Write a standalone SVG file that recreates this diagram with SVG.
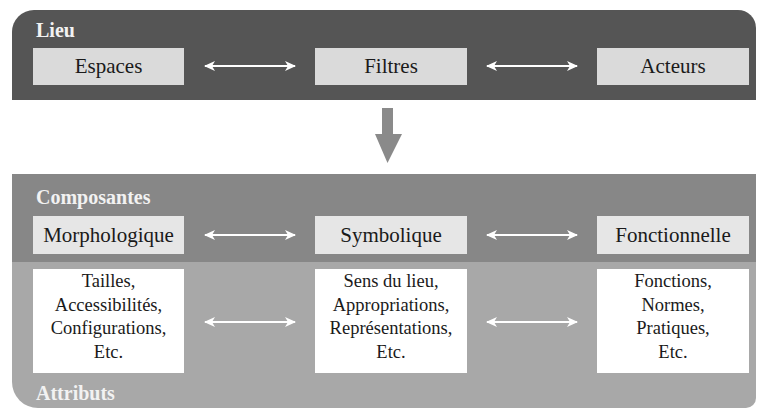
<svg xmlns="http://www.w3.org/2000/svg" width="758" height="410" viewBox="0 0 758 410">
<style>
.lbl{font-weight:bold;font-size:20px;fill:#f2f2f2}
.t{font-size:21px;fill:#1a1a1a;text-anchor:middle}
.a{font-size:18.5px;fill:#1a1a1a;text-anchor:middle}
.b1{fill:#dadada}
.b2{fill:#e6e6e6}
.b3{fill:#ffffff}
.c{stroke:#ffffff;stroke-width:2.2;fill:none;marker-start:url(#hs);marker-end:url(#he)}
</style>
<defs>
<marker id="he" markerWidth="12" markerHeight="10" refX="10" refY="5" orient="auto" markerUnits="userSpaceOnUse"><path d="M0,0 L11,5 L0,10 L3,5 Z" fill="#ffffff"/></marker>
<marker id="hs" markerWidth="12" markerHeight="10" refX="1" refY="5" orient="auto" markerUnits="userSpaceOnUse"><path d="M11,0 L0,5 L11,10 L8,5 Z" fill="#ffffff"/></marker>
</defs>
<rect width="758" height="410" fill="#ffffff"/>
<g font-family="Liberation Serif, serif">
<g id="panel-lieu">
<path d="M12,100 L12,32 A22,22 0 0 1 34,10 L738,10 A18,18 0 0 1 756,28 L756,100 Z" fill="#555555"/>
<text class="lbl" x="36" y="37">Lieu</text>
</g>
<g id="panel-composantes">
<rect x="12" y="174" width="744" height="88" fill="#878787"/>
<text class="lbl" x="36" y="204">Composantes</text>
</g>
<g id="panel-attributs">
<path d="M12,262 L756,262 L756,398 A10,10 0 0 1 746,408 L38,408 A26,26 0 0 1 12,382 Z" fill="#a8a8a8"/>
<text class="lbl" x="36" y="400">Attributs</text>
</g>
<g id="espaces"><rect class="b1" x="33" y="48" width="151" height="37"/><text class="t" x="108.5" y="73">Espaces</text></g>
<g id="filtres"><rect class="b1" x="315" y="48" width="152" height="37"/><text class="t" x="391" y="73">Filtres</text></g>
<g id="acteurs"><rect class="b1" x="597" y="48" width="152" height="37"/><text class="t" x="673" y="73">Acteurs</text></g>
<g id="morphologique"><rect class="b2" x="33" y="216" width="151" height="38"/><text class="t" x="108.5" y="242">Morphologique</text></g>
<g id="symbolique"><rect class="b2" x="315" y="216" width="152" height="38"/><text class="t" x="391" y="242">Symbolique</text></g>
<g id="fonctionnelle"><rect class="b2" x="597" y="216" width="152" height="38"/><text class="t" x="673" y="242">Fonctionnelle</text></g>
<g id="attr-morpho"><rect class="b3" x="33" y="269" width="151" height="104"/>
<text class="a" x="108.5" y="287">Tailles,</text><text class="a" x="108.5" y="311">Accessibilités,</text><text class="a" x="108.5" y="334">Configurations,</text><text class="a" x="108.5" y="358">Etc.</text></g>
<g id="attr-symbo"><rect class="b3" x="315" y="269" width="152" height="104"/>
<text class="a" x="391" y="287">Sens du lieu,</text><text class="a" x="391" y="311">Appropriations,</text><text class="a" x="391" y="334">Représentations,</text><text class="a" x="391" y="358">Etc.</text></g>
<g id="attr-fonc"><rect class="b3" x="597" y="269" width="152" height="104"/>
<text class="a" x="673" y="287">Fonctions,</text><text class="a" x="673" y="311">Normes,</text><text class="a" x="673" y="334">Pratiques,</text><text class="a" x="673" y="358">Etc.</text></g>
</g>
<g id="connectors">
<line class="c" x1="205" y1="66" x2="295" y2="66"/>
<line class="c" x1="487" y1="66" x2="577" y2="66"/>
<line class="c" x1="205" y1="235" x2="295" y2="235"/>
<line class="c" x1="487" y1="235" x2="577" y2="235"/>
<line class="c" x1="205" y1="322" x2="295" y2="322"/>
<line class="c" x1="487" y1="322" x2="577" y2="322"/>
<path d="M382,108 L393,108 L393,134 L402,134 L387.5,163 L375,134 L382,134 Z" fill="#8a8a8a"/>
</g>
</svg>
